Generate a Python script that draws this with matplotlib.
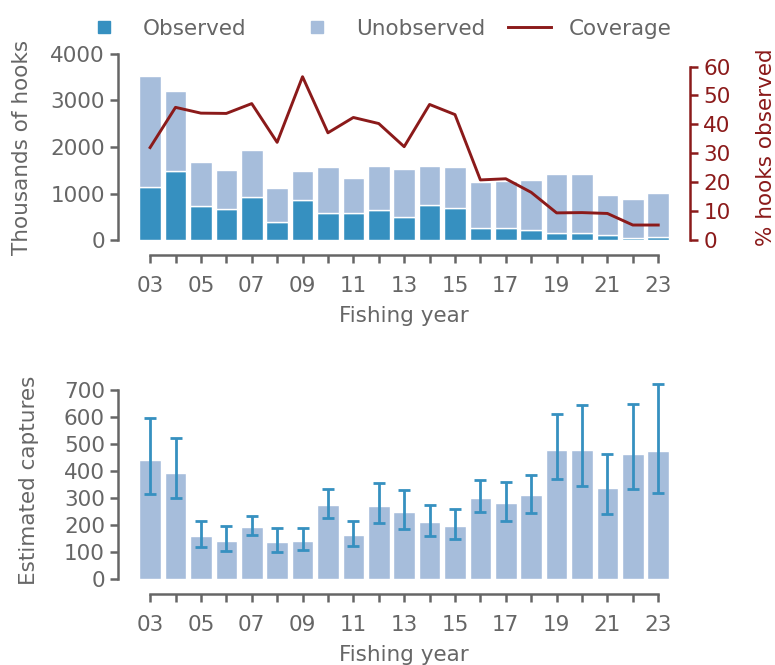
import numpy as np
import matplotlib.pyplot as plt
from matplotlib.lines import Line2D

years = list(range(2003, 2024))
year_labels = [f"{y % 100:02d}" for y in years]

# thousands of hooks
total_hooks = [3533, 3204, 1671, 1505, 1935, 1111, 1484, 1563, 1341, 1599, 1527,
               1599, 1577, 1240, 1262, 1297, 1426, 1412, 975, 882, 1004]
observed_hooks = [1146, 1484, 738, 667, 925, 380, 853, 588, 573, 645, 495,
                  760, 681, 265, 265, 215, 143, 143, 108, 50, 72]
# % hooks observed
coverage = [32.0, 45.9, 43.9, 43.8, 47.2, 33.8, 56.5, 37.1, 42.4, 40.3, 32.3,
            46.9, 43.4, 20.8, 21.2, 16.5, 9.4, 9.5, 9.2, 5.2, 5.2]

captures = [440, 393, 160, 143, 194, 137, 143, 275, 163, 271, 249,
            211, 198, 301, 281, 310, 477, 477, 336, 461, 474]
captures_lo = [315, 299, 118, 105, 163, 101, 108, 227, 122, 207, 185,
               159, 148, 248, 216, 246, 372, 346, 241, 334, 317]
captures_hi = [595, 523, 217, 197, 235, 188, 190, 335, 217, 355, 330,
               274, 260, 365, 361, 387, 611, 645, 463, 647, 723]

c_obs = '#3690c0'
c_unobs = '#a6bddb'
c_cov = '#8b1a1a'
c_text = '#666666'
c_spine = '#666666'
fs = 15.5

plt.rcParams['font.family'] = 'DejaVu Sans'
plt.rcParams['font.size'] = fs

x = np.arange(len(years))
unobserved = np.array(total_hooks) - np.array(observed_hooks)

fig = plt.figure(figsize=(7.75, 6.65), dpi=100)
ax1 = fig.add_axes([0.174, 0.639, 0.695, 0.280])
ax3 = fig.add_axes([0.174, 0.129, 0.695, 0.297])


def style_axis(ax, ymax_tick):
    for s in ['top', 'right']:
        ax.spines[s].set_visible(False)
    ax.spines['left'].set_position(('outward', 12))
    ax.spines['bottom'].set_position(('outward', 11))
    for s in ['left', 'bottom']:
        ax.spines[s].set_color(c_spine)
        ax.spines[s].set_linewidth(1.8)
    ax.spines['left'].set_bounds(0, ymax_tick)
    ax.spines['bottom'].set_bounds(0, len(years) - 1)
    ax.tick_params(colors=c_spine, labelcolor=c_text, width=1.8, length=6,
                   labelsize=fs)
    ax.tick_params(axis='x', pad=9)
    ax.set_xticks(x)
    ax.set_xticklabels([lab if i % 2 == 0 else '' for i, lab in enumerate(year_labels)])
    ax.set_xlim(-0.6, len(years) - 0.4)
    ax.set_xlabel('Fishing year', color=c_text, fontsize=fs, labelpad=7)


ax1.bar(x, observed_hooks, width=0.85, color=c_obs, edgecolor='white', linewidth=1)
ax1.bar(x, unobserved, bottom=observed_hooks, width=0.85, color=c_unobs,
        edgecolor='white', linewidth=1)
ax1.set_ylim(0, 4000)
ax1.set_yticks([0, 1000, 2000, 3000, 4000])
style_axis(ax1, 4000)
ax1.set_ylabel('Thousands of hooks', color=c_text, fontsize=fs, labelpad=13)

ax2 = ax1.twinx()
ax2.plot(x, coverage, color=c_cov, linewidth=2.1)
ax2.set_ylim(0, 64.4)
ax2.set_yticks(range(0, 61, 10))
for s in ['top', 'left', 'bottom']:
    ax2.spines[s].set_visible(False)
ax2.spines['right'].set_position(('outward', 12))
ax2.spines['right'].set_color(c_cov)
ax2.spines['right'].set_linewidth(1.8)
ax2.spines['right'].set_bounds(0, 60)
ax2.tick_params(colors=c_cov, labelcolor=c_cov, width=1.8, length=6, labelsize=fs)
ax2.set_ylabel('% hooks observed', color=c_cov, fontsize=fs, labelpad=18)

bar_handles = [
    Line2D([], [], marker='s', linestyle='none', color=c_obs, markersize=9),
    Line2D([], [], marker='s', linestyle='none', color=c_unobs, markersize=9),
]
fig.legend(bar_handles, ['Observed', 'Unobserved'], ncol=2, frameon=False,
           loc='center left', bbox_to_anchor=(0.106, 0.957), fontsize=fs,
           labelcolor=c_text, columnspacing=2.3, handlelength=2.0,
           handletextpad=0.8, borderpad=0, borderaxespad=0)
fig.legend([Line2D([], [], color=c_cov, linewidth=2.1)], ['Coverage'], frameon=False,
           loc='center left', bbox_to_anchor=(0.656, 0.957), fontsize=fs,
           labelcolor=c_text, handlelength=2.0, handletextpad=0.8,
           borderpad=0, borderaxespad=0)

yerr = [np.array(captures) - np.array(captures_lo),
        np.array(captures_hi) - np.array(captures)]
ax3.bar(x, captures, width=0.85, color=c_unobs, edgecolor='white', linewidth=1)
ax3.errorbar(x, captures, yerr=yerr, fmt='none', ecolor=c_obs, elinewidth=2,
             capsize=4.5, capthick=2)
ax3.set_ylim(0, 730)
ax3.set_yticks(range(0, 701, 100))
style_axis(ax3, 700)
ax3.set_ylabel('Estimated captures', color=c_text, fontsize=fs, labelpad=18)

fig.savefig('out.png', dpi=100)
